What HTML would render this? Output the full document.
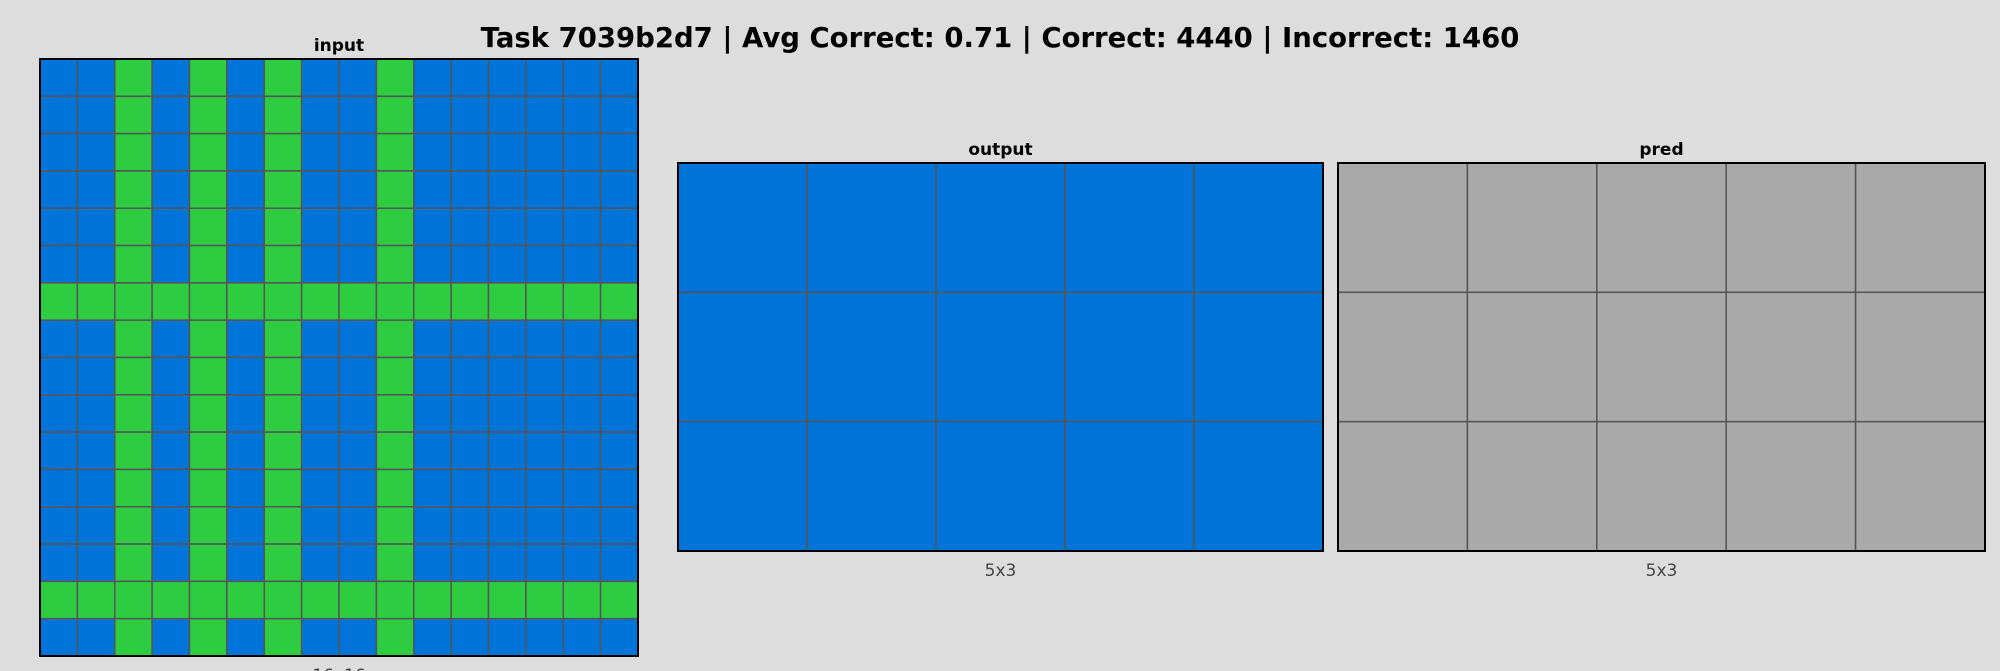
<!DOCTYPE html>
<html><head><meta charset="utf-8"><style>
body{margin:0;width:2000px;height:671px;background:#dddddd;font-family:"DejaVu Sans","Liberation Sans",sans-serif;overflow:hidden;position:relative}
.t{position:absolute;text-align:center;white-space:nowrap}
</style></head><body>
<div class="t" style="left:0;width:2000px;top:22px;font-size:27.5px;font-weight:bold">Task 7039b2d7 | Avg Correct: 0.71 | Correct: 4440 | Incorrect: 1460</div>
<svg id="s" width="2000" height="671" style="position:absolute;left:0;top:0"></svg>
<script>
const colors=["#0074d9","#2ecc40","#aaaaaa"];
const inputGreenCols=[2,4,6,9];
const inputGreenRows=[6,14];
const inputSize=[16,16];
const outputGrid=[[0,0,0,0,0],[0,0,0,0,0],[0,0,0,0,0]];
const predGrid=[[2,2,2,2,2],[2,2,2,2,2],[2,2,2,2,2]];
const inputGrid=[];
for(let r=0;r<inputSize[1];r++){const row=[];for(let c=0;c<inputSize[0];c++){row.push(inputGreenRows.includes(r)||inputGreenCols.includes(c)?1:0);}inputGrid.push(row);}
const svg=document.getElementById('s');
const NS='http://www.w3.org/2000/svg';
function txt(x,y,s,size,bold,fill,name){const t=document.createElementNS(NS,'text');t.setAttribute('x',x);t.setAttribute('y',y);t.setAttribute('text-anchor','middle');t.setAttribute('font-size',size);if(bold)t.setAttribute('font-weight','bold');t.setAttribute('fill',fill);t.setAttribute('font-family','DejaVu Sans, Liberation Sans, sans-serif');t.textContent=s;


svg.appendChild(t);}
function draw(grid,x0,y0,w,h,title,label,name){
const rows=grid.length,cols=grid[0].length,cw=w/cols,ch=h/rows;
const g=document.createElementNS(NS,'g');


svg.appendChild(g);
for(let r=0;r<rows;r++)for(let c=0;c<cols;c++){const re=document.createElementNS(NS,'rect');re.setAttribute('x',x0+c*cw);re.setAttribute('y',y0+r*ch);re.setAttribute('width',cw);re.setAttribute('height',ch);re.setAttribute('fill',colors[grid[r][c]]);re.setAttribute('stroke','#555');re.setAttribute('stroke-width','1.5');


g.appendChild(re);}
const b=document.createElementNS(NS,'rect');b.setAttribute('x',x0);b.setAttribute('y',y0);b.setAttribute('width',w);b.setAttribute('height',h);b.setAttribute('fill','none');b.setAttribute('stroke','#000');b.setAttribute('stroke-width','2');


g.appendChild(b);
txt(x0+w/2,y0-8,title,17,true,'#000',name+'-title');
txt(x0+w/2,y0+h+25,label,17,false,'#444',name+'-size-label');
}
draw(inputGrid,40,59,598,597,'input','16x16','input-grid');
draw(outputGrid,678,163,645,388,'output','5x3','output-grid');
draw(predGrid,1338,163,647,388,'pred','5x3','pred-grid');
</script>
</body></html>
